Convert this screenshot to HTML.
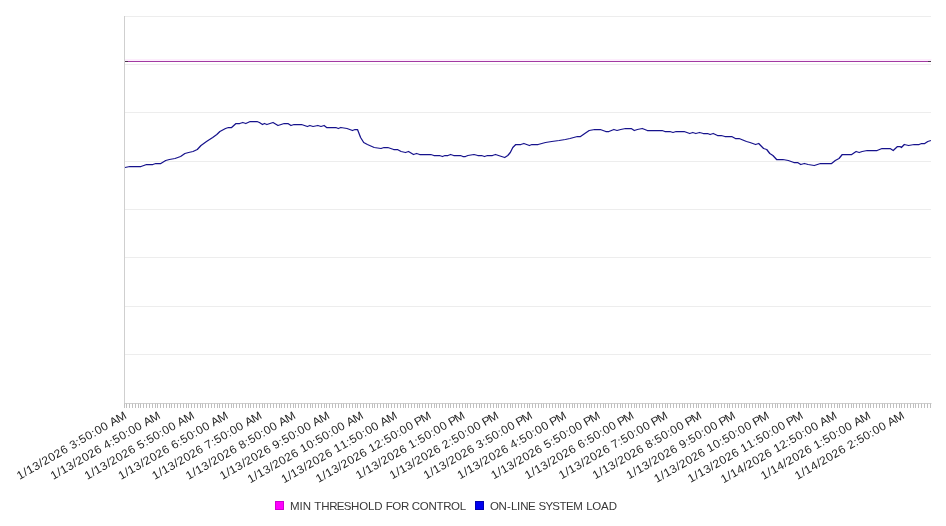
<!DOCTYPE html><html><head><meta charset="utf-8"><style>html,body{margin:0;padding:0;background:#fff;width:946px;height:526px;overflow:hidden}svg{display:block;will-change:transform}text{font-family:"Liberation Sans",sans-serif}</style></head><body>
<svg width="946" height="526" viewBox="0 0 946 526">
<rect width="946" height="526" fill="#fff"/>
<path d="M124 16.5H931 M124 64.5H931 M124 112.5H931 M124 161.5H931 M124 209.5H931 M124 257.5H931 M124 306.5H931 M124 354.5H931" stroke="#ededed" stroke-width="1" fill="none"/>
<path d="M124.5 16V404.0" stroke="#cfcfcf" stroke-width="1" fill="none"/>
<path d="M124 403.5H931.5" stroke="#cfcfcf" stroke-width="1" fill="none"/>
<path d="M124.5 403.5v4.5 M126.5 403.5v4.5 M129.5 403.5v4.5 M132.5 403.5v4.5 M135.5 403.5v4.5 M138.5 403.5v4.5 M140.5 403.5v4.5 M143.5 403.5v4.5 M146.5 403.5v4.5 M149.5 403.5v4.5 M152.5 403.5v4.5 M155.5 403.5v4.5 M157.5 403.5v4.5 M160.5 403.5v4.5 M163.5 403.5v4.5 M166.5 403.5v4.5 M169.5 403.5v4.5 M171.5 403.5v4.5 M174.5 403.5v4.5 M177.5 403.5v4.5 M180.5 403.5v4.5 M183.5 403.5v4.5 M186.5 403.5v4.5 M188.5 403.5v4.5 M191.5 403.5v4.5 M194.5 403.5v4.5 M197.5 403.5v4.5 M200.5 403.5v4.5 M202.5 403.5v4.5 M205.5 403.5v4.5 M208.5 403.5v4.5 M211.5 403.5v4.5 M214.5 403.5v4.5 M217.5 403.5v4.5 M219.5 403.5v4.5 M222.5 403.5v4.5 M225.5 403.5v4.5 M228.5 403.5v4.5 M231.5 403.5v4.5 M233.5 403.5v4.5 M236.5 403.5v4.5 M239.5 403.5v4.5 M242.5 403.5v4.5 M245.5 403.5v4.5 M248.5 403.5v4.5 M250.5 403.5v4.5 M253.5 403.5v4.5 M256.5 403.5v4.5 M259.5 403.5v4.5 M262.5 403.5v4.5 M264.5 403.5v4.5 M267.5 403.5v4.5 M270.5 403.5v4.5 M273.5 403.5v4.5 M276.5 403.5v4.5 M279.5 403.5v4.5 M281.5 403.5v4.5 M284.5 403.5v4.5 M287.5 403.5v4.5 M290.5 403.5v4.5 M293.5 403.5v4.5 M295.5 403.5v4.5 M298.5 403.5v4.5 M301.5 403.5v4.5 M304.5 403.5v4.5 M307.5 403.5v4.5 M310.5 403.5v4.5 M312.5 403.5v4.5 M315.5 403.5v4.5 M318.5 403.5v4.5 M321.5 403.5v4.5 M324.5 403.5v4.5 M326.5 403.5v4.5 M329.5 403.5v4.5 M332.5 403.5v4.5 M335.5 403.5v4.5 M338.5 403.5v4.5 M341.5 403.5v4.5 M343.5 403.5v4.5 M346.5 403.5v4.5 M349.5 403.5v4.5 M352.5 403.5v4.5 M355.5 403.5v4.5 M357.5 403.5v4.5 M360.5 403.5v4.5 M363.5 403.5v4.5 M366.5 403.5v4.5 M369.5 403.5v4.5 M372.5 403.5v4.5 M374.5 403.5v4.5 M377.5 403.5v4.5 M380.5 403.5v4.5 M383.5 403.5v4.5 M386.5 403.5v4.5 M388.5 403.5v4.5 M391.5 403.5v4.5 M394.5 403.5v4.5 M397.5 403.5v4.5 M400.5 403.5v4.5 M403.5 403.5v4.5 M405.5 403.5v4.5 M408.5 403.5v4.5 M411.5 403.5v4.5 M414.5 403.5v4.5 M417.5 403.5v4.5 M419.5 403.5v4.5 M422.5 403.5v4.5 M425.5 403.5v4.5 M428.5 403.5v4.5 M431.5 403.5v4.5 M434.5 403.5v4.5 M436.5 403.5v4.5 M439.5 403.5v4.5 M442.5 403.5v4.5 M445.5 403.5v4.5 M448.5 403.5v4.5 M450.5 403.5v4.5 M453.5 403.5v4.5 M456.5 403.5v4.5 M459.5 403.5v4.5 M462.5 403.5v4.5 M465.5 403.5v4.5 M467.5 403.5v4.5 M470.5 403.5v4.5 M473.5 403.5v4.5 M476.5 403.5v4.5 M479.5 403.5v4.5 M481.5 403.5v4.5 M484.5 403.5v4.5 M487.5 403.5v4.5 M490.5 403.5v4.5 M493.5 403.5v4.5 M496.5 403.5v4.5 M498.5 403.5v4.5 M501.5 403.5v4.5 M504.5 403.5v4.5 M507.5 403.5v4.5 M510.5 403.5v4.5 M512.5 403.5v4.5 M515.5 403.5v4.5 M518.5 403.5v4.5 M521.5 403.5v4.5 M524.5 403.5v4.5 M527.5 403.5v4.5 M529.5 403.5v4.5 M532.5 403.5v4.5 M535.5 403.5v4.5 M538.5 403.5v4.5 M541.5 403.5v4.5 M543.5 403.5v4.5 M546.5 403.5v4.5 M549.5 403.5v4.5 M552.5 403.5v4.5 M555.5 403.5v4.5 M558.5 403.5v4.5 M560.5 403.5v4.5 M563.5 403.5v4.5 M566.5 403.5v4.5 M569.5 403.5v4.5 M572.5 403.5v4.5 M574.5 403.5v4.5 M577.5 403.5v4.5 M580.5 403.5v4.5 M583.5 403.5v4.5 M586.5 403.5v4.5 M589.5 403.5v4.5 M591.5 403.5v4.5 M594.5 403.5v4.5 M597.5 403.5v4.5 M600.5 403.5v4.5 M603.5 403.5v4.5 M605.5 403.5v4.5 M608.5 403.5v4.5 M611.5 403.5v4.5 M614.5 403.5v4.5 M617.5 403.5v4.5 M620.5 403.5v4.5 M622.5 403.5v4.5 M625.5 403.5v4.5 M628.5 403.5v4.5 M631.5 403.5v4.5 M634.5 403.5v4.5 M636.5 403.5v4.5 M639.5 403.5v4.5 M642.5 403.5v4.5 M645.5 403.5v4.5 M648.5 403.5v4.5 M651.5 403.5v4.5 M653.5 403.5v4.5 M656.5 403.5v4.5 M659.5 403.5v4.5 M662.5 403.5v4.5 M665.5 403.5v4.5 M667.5 403.5v4.5 M670.5 403.5v4.5 M673.5 403.5v4.5 M676.5 403.5v4.5 M679.5 403.5v4.5 M682.5 403.5v4.5 M684.5 403.5v4.5 M687.5 403.5v4.5 M690.5 403.5v4.5 M693.5 403.5v4.5 M696.5 403.5v4.5 M698.5 403.5v4.5 M701.5 403.5v4.5 M704.5 403.5v4.5 M707.5 403.5v4.5 M710.5 403.5v4.5 M713.5 403.5v4.5 M715.5 403.5v4.5 M718.5 403.5v4.5 M721.5 403.5v4.5 M724.5 403.5v4.5 M727.5 403.5v4.5 M729.5 403.5v4.5 M732.5 403.5v4.5 M735.5 403.5v4.5 M738.5 403.5v4.5 M741.5 403.5v4.5 M744.5 403.5v4.5 M746.5 403.5v4.5 M749.5 403.5v4.5 M752.5 403.5v4.5 M755.5 403.5v4.5 M758.5 403.5v4.5 M760.5 403.5v4.5 M763.5 403.5v4.5 M766.5 403.5v4.5 M769.5 403.5v4.5 M772.5 403.5v4.5 M775.5 403.5v4.5 M777.5 403.5v4.5 M780.5 403.5v4.5 M783.5 403.5v4.5 M786.5 403.5v4.5 M789.5 403.5v4.5 M791.5 403.5v4.5 M794.5 403.5v4.5 M797.5 403.5v4.5 M800.5 403.5v4.5 M803.5 403.5v4.5 M806.5 403.5v4.5 M808.5 403.5v4.5 M811.5 403.5v4.5 M814.5 403.5v4.5 M817.5 403.5v4.5 M820.5 403.5v4.5 M822.5 403.5v4.5 M825.5 403.5v4.5 M828.5 403.5v4.5 M831.5 403.5v4.5 M834.5 403.5v4.5 M837.5 403.5v4.5 M839.5 403.5v4.5 M842.5 403.5v4.5 M845.5 403.5v4.5 M848.5 403.5v4.5 M851.5 403.5v4.5 M853.5 403.5v4.5 M856.5 403.5v4.5 M859.5 403.5v4.5 M862.5 403.5v4.5 M865.5 403.5v4.5 M868.5 403.5v4.5 M870.5 403.5v4.5 M873.5 403.5v4.5 M876.5 403.5v4.5 M879.5 403.5v4.5 M882.5 403.5v4.5 M884.5 403.5v4.5 M887.5 403.5v4.5 M890.5 403.5v4.5 M893.5 403.5v4.5 M896.5 403.5v4.5 M899.5 403.5v4.5 M901.5 403.5v4.5 M904.5 403.5v4.5 M907.5 403.5v4.5 M910.5 403.5v4.5 M913.5 403.5v4.5 M915.5 403.5v4.5 M918.5 403.5v4.5 M921.5 403.5v4.5 M924.5 403.5v4.5 M927.5 403.5v4.5 M930.5 403.5v4.5" stroke="#bfbfbf" stroke-width="1" fill="none"/>
<rect x="125" y="59" width="806.5" height="2" fill="#fdeefd"/>
<path d="M125 61.5H931" stroke="#a23aa2" stroke-width="1" fill="none"/>
<path d="M125 61.5H128M928 61.5H931" stroke="#4a344a" stroke-width="1" fill="none"/>
<path d="M125.0 167.5 L129.9 166.5 L141.0 166.5 L146.6 164.5 L152.8 164.5 L155.8 163.5 L160.8 163.5 L165.7 160.5 L169.4 159.5 L175.0 158.5 L180.6 156.5 L184.9 153.5 L188.6 152.5 L193.0 151.5 L197.3 149.5 L201.0 145.5 L206.5 141.5 L212.7 137.5 L216.8 134.5 L219.9 131.5 L225.5 128.5 L228.5 127.5 L231.6 127.5 L236.0 123.5 L239.7 123.5 L242.8 122.5 L245.8 123.5 L250.2 121.5 L257.0 121.5 L259.4 122.5 L262.5 124.5 L264.4 123.5 L266.9 124.5 L273.0 122.5 L278.0 125.5 L284.2 123.5 L287.9 123.5 L291.0 125.5 L294.0 124.5 L301.5 124.5 L307.4 126.5 L309.9 125.5 L313.0 126.5 L317.9 125.5 L321.0 126.5 L324.1 125.5 L326.6 127.5 L335.8 127.5 L338.3 128.5 L340.8 127.5 L347.0 128.5 L352.5 130.5 L355.0 129.5 L357.5 129.5 L360.6 137.5 L363.7 142.5 L367.4 144.5 L374.2 147.5 L381.0 148.5 L384.0 147.5 L387.8 147.5 L393.7 149.5 L397.4 149.5 L401.1 151.5 L405.5 152.5 L408.5 151.5 L413.5 154.5 L416.6 153.5 L419.7 154.5 L430.8 154.5 L433.9 155.5 L439.4 155.5 L442.5 156.5 L445.0 155.5 L448.0 155.5 L450.6 154.5 L453.7 155.5 L460.5 155.5 L462.9 156.5 L465.4 156.5 L467.9 155.5 L474.0 154.5 L477.8 155.5 L481.5 155.5 L484.5 156.5 L487.5 155.5 L492.4 155.5 L495.5 154.5 L498.5 155.5 L504.7 157.5 L507.8 155.5 L510.3 152.5 L512.8 147.5 L515.8 144.5 L520.8 144.5 L523.9 143.5 L529.4 145.5 L531.9 144.5 L538.1 144.5 L545.5 142.5 L551.7 141.5 L559.1 140.5 L565.3 139.5 L570.0 138.5 L573.7 137.5 L577.4 136.5 L580.5 136.5 L584.8 133.5 L589.2 130.5 L594.7 129.5 L600.3 129.5 L605.8 131.5 L608.9 131.5 L613.9 129.5 L617.0 130.5 L620.7 129.5 L625.6 128.5 L631.2 128.5 L634.3 130.5 L637.4 129.5 L642.3 128.5 L647.3 130.5 L656.5 130.5 L662.1 130.5 L664.9 131.5 L669.9 131.5 L673.0 132.5 L676.1 131.5 L684.1 131.5 L689.7 133.5 L692.8 132.5 L695.8 133.5 L699.6 132.5 L703.3 133.5 L707.6 133.5 L710.1 134.5 L713.2 133.5 L717.5 135.5 L721.2 135.5 L724.9 136.5 L731.7 136.5 L735.4 138.5 L739.1 138.5 L746.5 141.5 L750.0 142.5 L755.6 144.5 L758.7 143.5 L763.6 148.5 L766.7 149.5 L769.8 153.5 L772.9 155.5 L776.6 159.5 L782.8 159.5 L788.3 160.5 L793.9 162.5 L797.6 162.5 L800.7 164.5 L804.4 163.5 L808.1 164.5 L814.3 165.5 L820.5 163.5 L831.6 163.5 L835.3 160.5 L839.0 158.5 L842.3 154.5 L851.7 154.5 L856.1 151.5 L859.2 152.5 L862.2 151.5 L867.2 150.5 L877.1 150.5 L882.0 148.5 L890.1 148.5 L893.2 150.5 L897.5 146.5 L900.0 146.5 L901.4 147.5 L904.3 144.5 L908.6 145.5 L914.2 144.5 L919.1 144.5 L921.6 143.5 L924.7 143.5 L927.8 141.5 L930.9 140.5" stroke="#16128c" stroke-width="1.25" fill="none" stroke-linejoin="round"/>
<text transform="translate(127.30 417.70) rotate(-30) scale(1.05 1)" x="-118.54 -111.68 -108.20 -101.36 -94.58 -91.18 -84.28 -77.66 -70.76 -64.14 -60.61 -53.83 -50.33 -43.53 -36.74 -33.19 -26.44 -19.81 -16.69 -9.43" y="0" font-size="11.5" fill="#262626">1/13/2026 3:50:00 AM</text>
<text transform="translate(161.12 417.70) rotate(-30) scale(1.05 1)" x="-118.54 -111.68 -108.20 -101.36 -94.58 -91.18 -84.28 -77.66 -70.76 -64.14 -60.63 -53.83 -50.33 -43.53 -36.74 -33.19 -26.44 -19.81 -16.69 -9.43" y="0" font-size="11.5" fill="#262626">1/13/2026 4:50:00 AM</text>
<text transform="translate(194.94 417.70) rotate(-30) scale(1.05 1)" x="-118.54 -111.68 -108.20 -101.36 -94.58 -91.18 -84.28 -77.66 -70.76 -64.14 -60.67 -53.83 -50.33 -43.53 -36.74 -33.19 -26.44 -19.81 -16.69 -9.43" y="0" font-size="11.5" fill="#262626">1/13/2026 5:50:00 AM</text>
<text transform="translate(228.76 417.70) rotate(-30) scale(1.05 1)" x="-118.54 -111.68 -108.20 -101.36 -94.58 -91.18 -84.28 -77.66 -70.76 -64.14 -60.63 -53.83 -50.33 -43.53 -36.74 -33.19 -26.44 -19.81 -16.69 -9.43" y="0" font-size="11.5" fill="#262626">1/13/2026 6:50:00 AM</text>
<text transform="translate(262.58 417.70) rotate(-30) scale(1.05 1)" x="-118.54 -111.68 -108.20 -101.36 -94.58 -91.18 -84.28 -77.66 -70.76 -64.14 -60.65 -53.83 -50.33 -43.53 -36.74 -33.19 -26.44 -19.81 -16.69 -9.43" y="0" font-size="11.5" fill="#262626">1/13/2026 7:50:00 AM</text>
<text transform="translate(296.40 417.70) rotate(-30) scale(1.05 1)" x="-118.54 -111.68 -108.20 -101.36 -94.58 -91.18 -84.28 -77.66 -70.76 -64.14 -60.63 -53.83 -50.33 -43.53 -36.74 -33.19 -26.44 -19.81 -16.69 -9.43" y="0" font-size="11.5" fill="#262626">1/13/2026 8:50:00 AM</text>
<text transform="translate(330.22 417.70) rotate(-30) scale(1.05 1)" x="-118.54 -111.68 -108.20 -101.36 -94.58 -91.18 -84.28 -77.66 -70.76 -64.14 -60.66 -53.83 -50.33 -43.53 -36.74 -33.19 -26.44 -19.81 -16.69 -9.43" y="0" font-size="11.5" fill="#262626">1/13/2026 9:50:00 AM</text>
<text transform="translate(364.05 417.70) rotate(-30) scale(1.05 1)" x="-125.29 -118.44 -114.96 -108.12 -101.34 -97.94 -91.04 -84.42 -77.52 -70.90 -67.45 -60.63 -53.83 -50.33 -43.53 -36.74 -33.19 -26.44 -19.81 -16.69 -9.43" y="0" font-size="11.5" fill="#262626">1/13/2026 10:50:00 AM</text>
<text transform="translate(397.87 417.70) rotate(-30) scale(1.05 1)" x="-125.29 -118.44 -114.96 -108.12 -101.34 -97.94 -91.04 -84.42 -77.52 -70.90 -67.45 -60.69 -53.83 -50.33 -43.53 -36.74 -33.19 -26.44 -19.81 -16.69 -9.43" y="0" font-size="11.5" fill="#262626">1/13/2026 11:50:00 AM</text>
<text transform="translate(431.69 417.70) rotate(-30) scale(1.05 1)" x="-124.43 -117.58 -114.09 -107.26 -100.48 -97.07 -90.18 -83.56 -76.66 -70.03 -66.59 -59.90 -52.97 -49.47 -42.67 -35.87 -32.33 -25.57 -18.95 -16.08 -9.43" y="0" font-size="11.5" fill="#262626">1/13/2026 12:50:00 PM</text>
<text transform="translate(465.51 417.70) rotate(-30) scale(1.05 1)" x="-117.67 -110.82 -107.34 -100.50 -93.72 -90.32 -83.42 -76.80 -69.90 -63.28 -59.83 -52.97 -49.47 -42.67 -35.87 -32.33 -25.57 -18.95 -16.08 -9.43" y="0" font-size="11.5" fill="#262626">1/13/2026 1:50:00 PM</text>
<text transform="translate(499.33 417.70) rotate(-30) scale(1.05 1)" x="-117.67 -110.82 -107.34 -100.50 -93.72 -90.32 -83.42 -76.80 -69.90 -63.28 -59.90 -52.97 -49.47 -42.67 -35.87 -32.33 -25.57 -18.95 -16.08 -9.43" y="0" font-size="11.5" fill="#262626">1/13/2026 2:50:00 PM</text>
<text transform="translate(533.15 417.70) rotate(-30) scale(1.05 1)" x="-117.67 -110.82 -107.34 -100.50 -93.72 -90.32 -83.42 -76.80 -69.90 -63.28 -59.75 -52.97 -49.47 -42.67 -35.87 -32.33 -25.57 -18.95 -16.08 -9.43" y="0" font-size="11.5" fill="#262626">1/13/2026 3:50:00 PM</text>
<text transform="translate(566.97 417.70) rotate(-30) scale(1.05 1)" x="-117.67 -110.82 -107.34 -100.50 -93.72 -90.32 -83.42 -76.80 -69.90 -63.28 -59.77 -52.97 -49.47 -42.67 -35.87 -32.33 -25.57 -18.95 -16.08 -9.43" y="0" font-size="11.5" fill="#262626">1/13/2026 4:50:00 PM</text>
<text transform="translate(600.79 417.70) rotate(-30) scale(1.05 1)" x="-117.67 -110.82 -107.34 -100.50 -93.72 -90.32 -83.42 -76.80 -69.90 -63.28 -59.81 -52.97 -49.47 -42.67 -35.87 -32.33 -25.57 -18.95 -16.08 -9.43" y="0" font-size="11.5" fill="#262626">1/13/2026 5:50:00 PM</text>
<text transform="translate(634.61 417.70) rotate(-30) scale(1.05 1)" x="-117.67 -110.82 -107.34 -100.50 -93.72 -90.32 -83.42 -76.80 -69.90 -63.28 -59.77 -52.97 -49.47 -42.67 -35.87 -32.33 -25.57 -18.95 -16.08 -9.43" y="0" font-size="11.5" fill="#262626">1/13/2026 6:50:00 PM</text>
<text transform="translate(668.43 417.70) rotate(-30) scale(1.05 1)" x="-117.67 -110.82 -107.34 -100.50 -93.72 -90.32 -83.42 -76.80 -69.90 -63.28 -59.79 -52.97 -49.47 -42.67 -35.87 -32.33 -25.57 -18.95 -16.08 -9.43" y="0" font-size="11.5" fill="#262626">1/13/2026 7:50:00 PM</text>
<text transform="translate(702.25 417.70) rotate(-30) scale(1.05 1)" x="-117.67 -110.82 -107.34 -100.50 -93.72 -90.32 -83.42 -76.80 -69.90 -63.28 -59.77 -52.97 -49.47 -42.67 -35.87 -32.33 -25.57 -18.95 -16.08 -9.43" y="0" font-size="11.5" fill="#262626">1/13/2026 8:50:00 PM</text>
<text transform="translate(736.07 417.70) rotate(-30) scale(1.05 1)" x="-117.67 -110.82 -107.34 -100.50 -93.72 -90.32 -83.42 -76.80 -69.90 -63.28 -59.80 -52.97 -49.47 -42.67 -35.87 -32.33 -25.57 -18.95 -16.08 -9.43" y="0" font-size="11.5" fill="#262626">1/13/2026 9:50:00 PM</text>
<text transform="translate(769.90 417.70) rotate(-30) scale(1.05 1)" x="-124.43 -117.58 -114.09 -107.26 -100.48 -97.07 -90.18 -83.56 -76.66 -70.03 -66.59 -59.77 -52.97 -49.47 -42.67 -35.87 -32.33 -25.57 -18.95 -16.08 -9.43" y="0" font-size="11.5" fill="#262626">1/13/2026 10:50:00 PM</text>
<text transform="translate(803.72 417.70) rotate(-30) scale(1.05 1)" x="-124.43 -117.58 -114.09 -107.26 -100.48 -97.07 -90.18 -83.56 -76.66 -70.03 -66.59 -59.83 -52.97 -49.47 -42.67 -35.87 -32.33 -25.57 -18.95 -16.08 -9.43" y="0" font-size="11.5" fill="#262626">1/13/2026 11:50:00 PM</text>
<text transform="translate(837.54 417.70) rotate(-30) scale(1.05 1)" x="-125.29 -118.44 -114.96 -108.13 -101.34 -97.94 -91.04 -84.42 -77.52 -70.90 -67.45 -60.77 -53.83 -50.33 -43.53 -36.74 -33.19 -26.44 -19.81 -16.69 -9.43" y="0" font-size="11.5" fill="#262626">1/14/2026 12:50:00 AM</text>
<text transform="translate(871.36 417.70) rotate(-30) scale(1.05 1)" x="-118.54 -111.68 -108.20 -101.38 -94.58 -91.18 -84.28 -77.66 -70.76 -64.14 -60.69 -53.83 -50.33 -43.53 -36.74 -33.19 -26.44 -19.81 -16.69 -9.43" y="0" font-size="11.5" fill="#262626">1/14/2026 1:50:00 AM</text>
<text transform="translate(905.18 417.70) rotate(-30) scale(1.05 1)" x="-118.54 -111.68 -108.20 -101.38 -94.58 -91.18 -84.28 -77.66 -70.76 -64.14 -60.77 -53.83 -50.33 -43.53 -36.74 -33.19 -26.44 -19.81 -16.69 -9.43" y="0" font-size="11.5" fill="#262626">1/14/2026 2:50:00 AM</text>
<rect x="275.5" y="501.5" width="8" height="8" fill="#ff00ff" stroke="#d000d0" stroke-width="1"/>
<text transform="translate(290 510) scale(1.0 1)" x="-0.04 9.52 12.69 20.96 24.31 31.16 39.30 46.70 53.76 61.01 69.16 78.05 84.19 92.55 95.68 102.24 110.88 118.68 121.80 129.72 138.47 146.59 153.31 160.97 169.86" y="0" font-size="11.5" fill="#383838">MIN THRESHOLD FOR CONTROL</text>
<text transform="translate(490 510) scale(1.0 1)" x="-0.14 8.62 16.96 20.95 27.01 30.19 38.06 45.41 48.62 55.41 62.32 69.44 75.91 83.22 92.75 96.34 102.23 110.96 118.66" y="0" font-size="11.5" fill="#383838">ON-LINE SYSTEM LOAD</text>
<rect x="475.5" y="501.5" width="8" height="8" fill="#0000f0" stroke="#0000b0" stroke-width="1"/>
</svg></body></html>
